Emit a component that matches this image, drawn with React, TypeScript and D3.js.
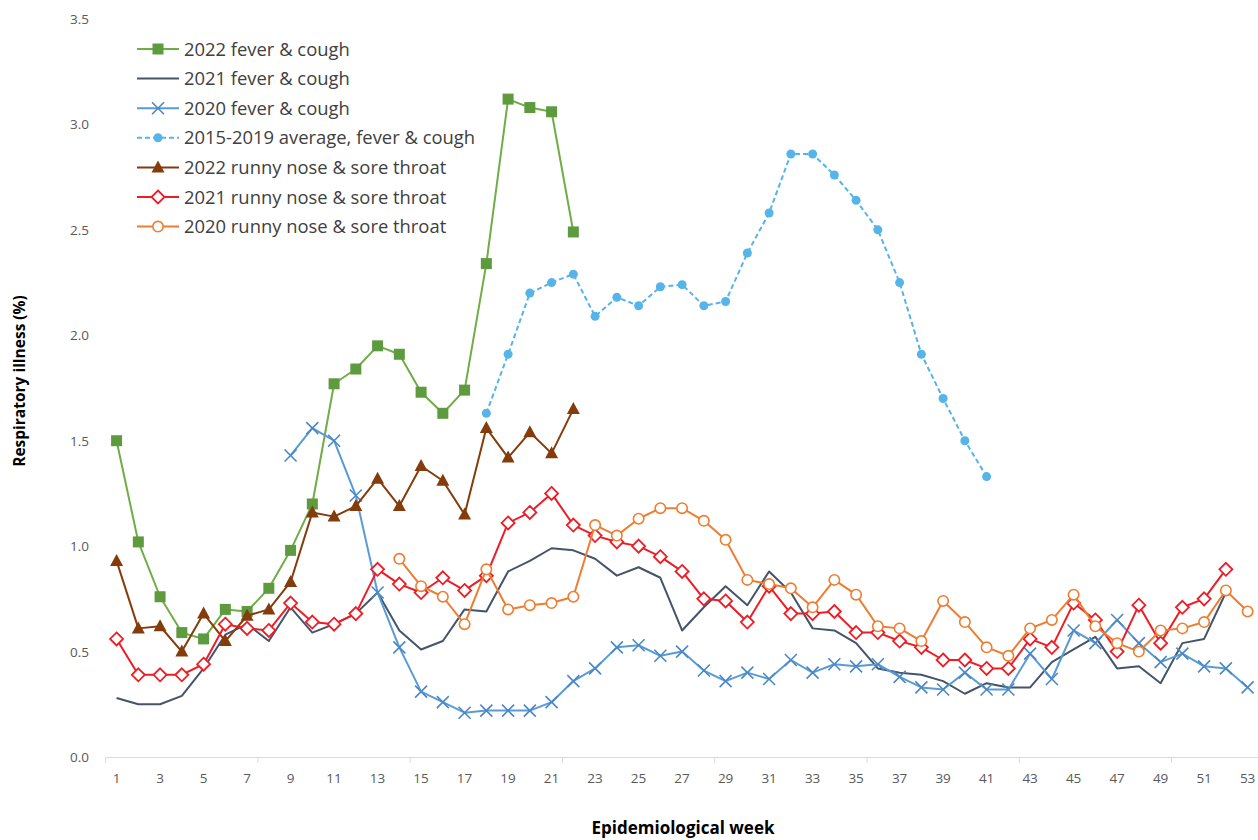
import React from "react";
import * as d3 from "d3";

const weeks: number[] = d3.range(1, 54);
const yTicks: number[] = [0, 0.5, 1, 1.5, 2, 2.5, 3, 3.5];

type V = number | null;
const N = null;

// 2022 fever & cough (weeks 1-22)
const fever2022: V[] = [1.50, 1.02, 0.76, 0.59, 0.56, 0.70, 0.69, 0.80, 0.98, 1.20, 1.77, 1.84, 1.95, 1.91, 1.73, 1.63, 1.74, 2.34, 3.12, 3.08, 3.06, 2.49];
// 2021 fever & cough (weeks 1-52)
const fever2021: V[] = [0.28, 0.25, 0.25, 0.29, 0.42, 0.58, 0.63, 0.55, 0.71, 0.59, 0.63, 0.68, 0.78, 0.60, 0.51, 0.55, 0.70, 0.69, 0.88, 0.93, 0.99, 0.98, 0.94, 0.86, 0.90, 0.85, 0.60, 0.71, 0.81, 0.72, 0.88, 0.78, 0.61, 0.60, 0.54, 0.42, 0.40, 0.39, 0.36, 0.30, 0.35, 0.33, 0.33, 0.45, 0.51, 0.57, 0.42, 0.43, 0.35, 0.54, 0.56, 0.78];
// 2020 fever & cough (weeks 9-53)
const fever2020: V[] = [N, N, N, N, N, N, N, N, 1.43, 1.56, 1.50, 1.24, 0.78, 0.52, 0.31, 0.26, 0.21, 0.22, 0.22, 0.22, 0.26, 0.36, 0.42, 0.52, 0.53, 0.48, 0.50, 0.41, 0.36, 0.40, 0.37, 0.46, 0.40, 0.44, 0.43, 0.44, 0.38, 0.33, 0.32, 0.40, 0.32, 0.32, 0.49, 0.37, 0.60, 0.54, 0.65, 0.54, 0.45, 0.49, 0.43, 0.42, 0.33];
// 2015-2019 average fever & cough (weeks 18-41)
const feverAvg: V[] = [N, N, N, N, N, N, N, N, N, N, N, N, N, N, N, N, N, 1.63, 1.91, 2.20, 2.25, 2.29, 2.09, 2.18, 2.14, 2.23, 2.24, 2.14, 2.16, 2.39, 2.58, 2.86, 2.86, 2.76, 2.64, 2.50, 2.25, 1.91, 1.70, 1.50, 1.33];
// 2022 runny nose & sore throat (weeks 1-22)
const runny2022: V[] = [0.93, 0.61, 0.62, 0.50, 0.68, 0.55, 0.67, 0.70, 0.83, 1.16, 1.14, 1.19, 1.32, 1.19, 1.38, 1.31, 1.15, 1.56, 1.42, 1.54, 1.44, 1.65];
// 2021 runny nose & sore throat (weeks 1-52)
const runny2021: V[] = [0.56, 0.39, 0.39, 0.39, 0.44, 0.63, 0.61, 0.60, 0.73, 0.64, 0.63, 0.68, 0.89, 0.82, 0.78, 0.85, 0.79, 0.86, 1.11, 1.16, 1.25, 1.10, 1.05, 1.02, 1.00, 0.95, 0.88, 0.75, 0.74, 0.64, 0.81, 0.68, 0.68, 0.69, 0.59, 0.59, 0.55, 0.52, 0.46, 0.46, 0.42, 0.42, 0.56, 0.52, 0.73, 0.65, 0.50, 0.72, 0.54, 0.71, 0.75, 0.89];
// 2020 runny nose & sore throat (weeks 14-53)
const runny2020: V[] = [N, N, N, N, N, N, N, N, N, N, N, N, N, 0.94, 0.81, 0.76, 0.63, 0.89, 0.70, 0.72, 0.73, 0.76, 1.10, 1.05, 1.13, 1.18, 1.18, 1.12, 1.03, 0.84, 0.82, 0.80, 0.71, 0.84, 0.77, 0.62, 0.61, 0.55, 0.74, 0.64, 0.52, 0.48, 0.61, 0.65, 0.77, 0.62, 0.54, 0.50, 0.60, 0.61, 0.64, 0.79, 0.69];

type Marker = "square" | "none" | "x" | "dot" | "triangle" | "diamond" | "circle";
interface Series { name: string; values: V[]; color: string; markerColor: string; marker: Marker; dash?: string; }

const series: Series[] = [
  { name: "2022 fever & cough", values: fever2022, color: "#70AD47", markerColor: "#5E9B3F", marker: "square" },
  { name: "2021 fever & cough", values: fever2021, color: "#44546A", markerColor: "#44546A", marker: "none" },
  { name: "2020 fever & cough", values: fever2020, color: "#5B9BD5", markerColor: "#4A88C5", marker: "x" },
  { name: "2015-2019 average, fever & cough", values: feverAvg, color: "#56B4E9", markerColor: "#56B4E9", marker: "dot", dash: "5,3" },
  { name: "2022 runny nose & sore throat", values: runny2022, color: "#843C0C", markerColor: "#843C0C", marker: "triangle" },
  { name: "2021 runny nose & sore throat", values: runny2021, color: "#EE1C25", markerColor: "#EE1C25", marker: "diamond" },
  { name: "2020 runny nose & sore throat", values: runny2020, color: "#ED7D31", markerColor: "#ED7D31", marker: "circle" },
];

const W = 1258, H = 840;
const x = d3.scaleBand<number>().domain(weeks).range([105.7, 1258.5]).padding(0);
const y = d3.scaleLinear().domain([0, 3.5]).range([757, 19]);
const cx = (w: number) => (x(w) as number) + x.bandwidth() / 2;

function MarkerShape({ type, color, px, py }: { type: Marker; color: string; px: number; py: number }) {
  switch (type) {
    case "square":
      return <rect x={px - 5.5} y={py - 5.5} width={11} height={11} fill={color} />;
    case "x":
      return <path d={`M${px - 6},${py - 6}L${px + 6},${py + 6}M${px - 6},${py + 6}L${px + 6},${py - 6}`} stroke={color} strokeWidth={1.6} fill="none" />;
    case "dot":
      return <circle cx={px} cy={py} r={4.5} fill={color} />;
    case "triangle":
      return <path d={`M${px},${py - 7}L${px + 6.5},${py + 5}L${px - 6.5},${py + 5}Z`} fill={color} />;
    case "diamond":
      return <path d={`M${px},${py - 6.5}L${px + 6.5},${py}L${px},${py + 6.5}L${px - 6.5},${py}Z`} fill="#fff" stroke={color} strokeWidth={1.8} />;
    case "circle":
      return <circle cx={px} cy={py} r={5.2} fill="#fff" stroke={color} strokeWidth={1.6} />;
    default:
      return null;
  }
}

export default function App() {
  const line = d3.line<[number, number]>().x(d => d[0]).y(d => d[1]);
  const fontFamily = "'Open Sans', 'Noto Sans', sans-serif";
  const boundaryTicks = d3.range(0, 53, 7);
  const xLabels = weeks.filter(w => w % 2 === 1);
  const legendX = 137, legendY0 = 49, legendDy = 29.6;

  return (
    <svg width={W} height={H} style={{ position: "absolute", left: 0, top: 0, background: "#fff" }} fontFamily={fontFamily}>
      {/* x axis */}
      <line x1={105.7} x2={1258} y1={757.5} y2={757.5} stroke="#D9D9D9" strokeWidth={1} />
      {boundaryTicks.map(i => {
        const px = 105.7 + i * x.bandwidth();
        return <line key={i} x1={px} x2={px} y1={757.5} y2={763} stroke="#D9D9D9" strokeWidth={1} />;
      })}
      {xLabels.map(w => (
        <text key={w} x={cx(w)} y={783} textAnchor="middle" fontSize={13.5} fill="#595959">{w}</text>
      ))}
      {/* y labels */}
      {yTicks.map(t => (
        <text key={t} x={89} y={y(t) + 5} textAnchor="end" fontSize={13.5} fill="#595959">{t.toFixed(1)}</text>
      ))}
      {/* axis titles */}
      <text transform={`translate(25,381) rotate(-90)`} textAnchor="middle" fontSize={15.5} fontWeight="bold" fill="#000">Respiratory illness (%)</text>
      <text x={683} y={834} textAnchor="middle" fontSize={17} fontWeight="bold" fill="#000">Epidemiological week</text>

      {/* series */}
      {series.map(s => {
        const pts: [number, number][] = [];
        s.values.forEach((v, i) => { if (v !== null) pts.push([cx(weeks[i]), y(v)]); });
        return (
          <g key={s.name}>
            <path d={line(pts) || ""} fill="none" stroke={s.color} strokeWidth={2} strokeDasharray={s.dash} strokeLinejoin="round" />
            {pts.map((p, i) => <MarkerShape key={i} type={s.marker} color={s.markerColor} px={p[0]} py={p[1]} />)}
          </g>
        );
      })}

      {/* legend */}
      {series.map((s, i) => {
        const ly = legendY0 + i * legendDy;
        return (
          <g key={s.name}>
            <line x1={legendX} x2={legendX + 42} y1={ly} y2={ly} stroke={s.color} strokeWidth={2} strokeDasharray={s.dash} />
            <MarkerShape type={s.marker} color={s.markerColor} px={legendX + 21} py={ly} />
            <text x={legendX + 47} y={ly + 6.5} fontSize={18.4} fill="#404040">{s.name}</text>
          </g>
        );
      })}
    </svg>
  );
}
